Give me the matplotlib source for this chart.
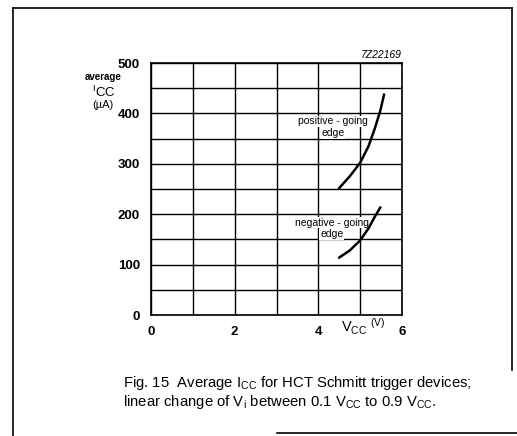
import matplotlib
matplotlib.use("Agg")
import matplotlib.pyplot as plt
from matplotlib.lines import Line2D

plt.rcParams['font.family'] = ['Liberation Sans', 'DejaVu Sans']
plt.rcParams['mathtext.fontset'] = 'custom'
plt.rcParams['mathtext.rm'] = 'Liberation Sans'
plt.rcParams['mathtext.it'] = 'Liberation Sans:italic'
plt.rcParams['mathtext.bf'] = 'Liberation Sans:bold'

# data
pos_vcc = [4.5, 4.75, 5.0, 5.2, 5.35, 5.48, 5.57]
pos_icc = [252, 275, 302, 335, 370, 405, 437]
neg_vcc = [4.5, 4.75, 5.0, 5.2, 5.35, 5.48]
neg_icc = [114, 128, 148, 172, 195, 213]
x_ticks = [0, 2, 4, 6]
y_ticks = [0, 100, 200, 300, 400, 500]

W, H = 517, 436
fig = plt.figure(figsize=(W / 100, H / 100), dpi=100)
ax = fig.add_axes([151 / W, (H - 315) / H, 251 / W, 252 / H])

ax.set_xlim(0, 6)
ax.set_ylim(0, 500)
ax.set_xticks(x_ticks)
ax.set_yticks(y_ticks)
ax.set_xticks(range(0, 7), minor=True)
ax.set_yticks(range(0, 501, 50), minor=True)
ax.grid(which='both', color='black', linewidth=1.0)
ax.set_axisbelow(True)
for s in ax.spines.values():
    s.set_linewidth(1.2)
ax.tick_params(which='both', length=0, labelsize=9.5)
for lab in ax.get_xticklabels() + ax.get_yticklabels():
    lab.set_fontweight('bold')
ax.tick_params(axis='x', pad=8)
ax.tick_params(axis='y', pad=8)

ax.plot(pos_vcc, pos_icc, color='black', linewidth=1.8, zorder=5)
ax.plot(neg_vcc, neg_icc, color='black', linewidth=1.8, zorder=5)

bb = dict(facecolor='white', edgecolor='none', pad=0.5)
ax.text(4.35, 384, 'positive - going', ha='center', va='center', fontsize=7.5, bbox=bb, zorder=4)
ax.text(4.35, 361, 'edge', ha='center', va='center', fontsize=7.5, bbox=bb, zorder=4)
ax.text(4.32, 183, 'negative - going', ha='center', va='center', fontsize=7.5, bbox=bb, zorder=4)
ax.text(4.32, 160, 'edge', ha='center', va='center', fontsize=7.5, bbox=bb, zorder=4)

# axis labels
fig.text(103 / W, 1 - 77 / H, 'average', ha='center', va='center', fontsize=7, fontweight='bold')
fig.text(104 / W, 1 - 92 / H, r'$\mathregular{^{I}CC}$', ha='center', va='center', fontsize=9.5)
fig.text(103 / W, 1 - 105 / H, '(\u00b5A)', ha='center', va='center', fontsize=8)
fig.text(341 / W, 1 - 327 / H, r'$\mathregular{V_{CC}}$ $\mathregular{^{(V)}}$', ha='left', va='center', fontsize=10.5)
fig.text(402 / W, 1 - 55 / H, '7Z22169', ha='right', va='center', fontsize=7.5, style='italic')

# caption
fig.text(123 / W, 1 - 383 / H, r'Fig. 15  Average $\mathregular{I_{CC}}$ for HCT Schmitt trigger devices;',
         ha='left', va='center', fontsize=10.7)
fig.text(123 / W, 1 - 402 / H, r'linear change of $\mathregular{V_i}$ between 0.1 $\mathregular{V_{CC}}$ to 0.9 $\mathregular{V_{CC}}$.',
         ha='left', va='center', fontsize=10.7)

# frame lines
def fl(x0, y0, x1, y1, lw=1.2):
    fig.add_artist(Line2D([x0 / W, x1 / W], [1 - y0 / H, 1 - y1 / H], color='black', linewidth=lw))

fl(13, 8, 13, 436)
fl(13, 8, 512, 8)
fl(512, 8, 512, 370)
fl(277, 433, 517, 433)

fig.savefig('out.png', dpi=100)
